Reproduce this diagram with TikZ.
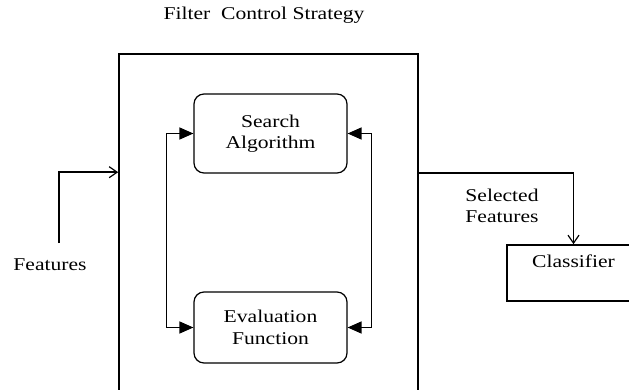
\documentclass[tikz,border=0pt]{standalone}
\usepackage{fontspec}
\setmainfont{Liberation Serif}[FakeStretch=1.2]
\usetikzlibrary{positioning, arrows.meta}

\begin{document}
\begin{tikzpicture}[
        x=1pt, y=1pt,
        font=\fontsize{18}{21.6}\selectfont,
        block/.style={draw, rectangle, line width=1.6pt, inner sep=0pt},
        func/.style={draw, rectangle, rounded corners=10pt, line width=1.2pt, minimum width=153pt, align=center},
        label/.style={align=center},
        openarrow/.style={-{Straight Barb[length=8pt, width=11pt, line width=1.2pt]}, line width=1.5pt},
        filledarrow/.style={{Triangle[length=14pt, width=12pt]}-{Triangle[length=14pt, width=12pt]}, line width=1.5pt}
    ]
        \useasboundingbox (0,0) rectangle (629,389);
        \fill[white] (0,0) rectangle (629,389);

        \node (title) at (264, 374) {Filter\ \ Control Strategy};

        \node[block, minimum width=299pt, minimum height=355pt] (filter) at (268.5, 157.5) {};

        \node[func, minimum height=79pt] (search) at (270.5, 255.5) {Search\\Algorithm};
        \node[func, minimum height=71pt] (eval) at (270.5, 61.5) {Evaluation\\Function};

        \draw[filledarrow] (search.west) -- ++(-27,0) |- (eval.west);
        \draw[filledarrow] (search.east) -- ++(24,0) |- (eval.east);

        \node[label] (features) at (50, 124) {Features};
        \coordinate (feat_in) at (59, 146);
        \coordinate (filter_in) at ([yshift=-119pt]filter.north west);
        \draw[openarrow] (feat_in) |- (filter_in);

        \node[block, minimum width=133pt, minimum height=56pt, text depth=24pt] (classifier) at (573.5, 116) {Classifier};
        \node[label] (selected) at (502, 183) {Selected\\Features};
        \coordinate (filter_out) at ([yshift=-120pt]filter.north east);
        \draw[openarrow] (filter_out) -| (classifier.north);

    \end{tikzpicture}
\end{document}
